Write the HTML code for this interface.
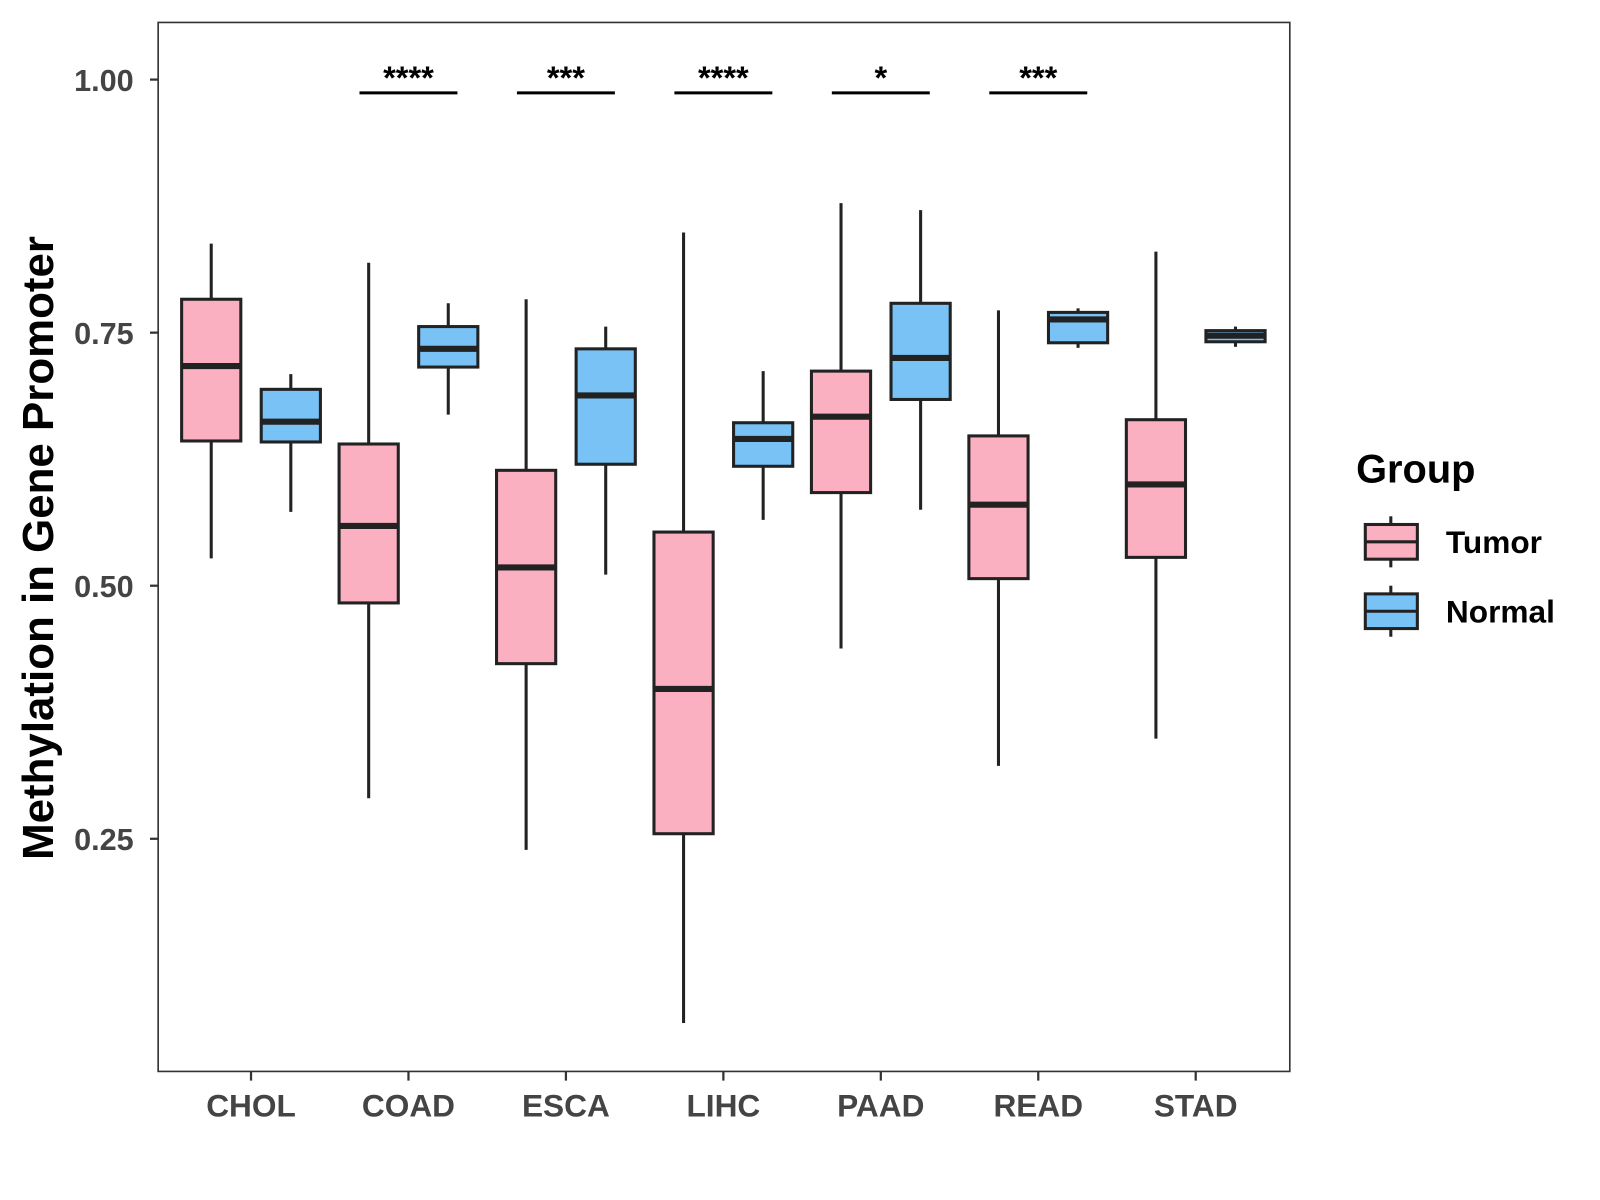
<!DOCTYPE html>
<html><head><meta charset="utf-8"><style>body{margin:0;background:#fff}svg{display:block;font-family:"Liberation Sans",Arial,sans-serif}</style></head>
<body>
<svg id="chart" width="1600" height="1200" viewBox="0 0 1568 1176" xmlns="http://www.w3.org/2000/svg"></svg>
<script>
const categories=["CHOL","COAD","ESCA","LIHC","PAAD","READ","STAD"];
// [min, q1, median, q3, max]
const tumor=[[0.527,0.643,0.717,0.783,0.838],[0.290,0.483,0.559,0.640,0.819],[0.239,0.423,0.518,0.614,0.783],[0.068,0.255,0.398,0.553,0.849],[0.438,0.592,0.667,0.712,0.878],[0.322,0.507,0.580,0.648,0.772],[0.349,0.528,0.600,0.664,0.830]];
const normal=[[0.573,0.642,0.662,0.694,0.709],[0.669,0.716,0.734,0.756,0.779],[0.511,0.620,0.688,0.734,0.756],[0.565,0.618,0.645,0.661,0.712],[0.575,0.684,0.725,0.779,0.871],[0.735,0.740,0.763,0.770,0.774],[0.736,0.741,0.747,0.752,0.756]];
const sigLabels=["","****","***","****","*","***",""];
const yTicks=[0.25,0.5,0.75,1.0];
const yTickLabels=["0.25","0.50","0.75","1.00"];
const NS="http://www.w3.org/2000/svg",svg=document.getElementById('chart');
const L=155,T=22,R=1264,B=1050;
const y=v=>78+(1-v)*992;
const x=i=>246+i*154.3;
function el(tag,a,p){const e=document.createElementNS(NS,tag);for(const k in a)e.setAttribute(k,a[k]);(p||svg).appendChild(e);return e;}
const frame=el('rect',{x:L,y:T,width:R-L,height:B-T,fill:'none',stroke:'#333','stroke-width':1.6});


yTicks.forEach((v,i)=>{
 const t=el('line',{x1:L-8,x2:L,y1:y(v),y2:y(v),stroke:'#333','stroke-width':2.2});
 
 
 const tx=el('text',{x:L-24,y:y(v)+11,'text-anchor':'end','font-size':30,'font-weight':'bold',fill:'#444'});
 tx.textContent=yTickLabels[i];
 
 
});
categories.forEach((c,i)=>{
 const t=el('line',{x1:x(i),x2:x(i),y1:B,y2:B+9,stroke:'#333','stroke-width':2.2});
 
 
 const tx=el('text',{x:x(i),y:1094,'text-anchor':'middle','font-size':31,'font-weight':'bold',fill:'#444'});
 tx.textContent=c;
 
 
 [[tumor[i],-39,'#FBB0C2','tumor'],[normal[i],39,'#78C2F6','normal']].forEach(([d,off,col,nm])=>{
  const cx=x(i)+off,g=el('g',{});
  
  
  el('line',{x1:cx,x2:cx,y1:y(d[4]),y2:y(d[0]),stroke:'#222','stroke-width':3},g);
  el('rect',{x:cx-29,y:y(d[3]),width:58,height:Math.max(1,y(d[1])-y(d[3])),fill:col,stroke:'#222','stroke-width':3},g);
  el('line',{x1:cx-29,x2:cx+29,y1:y(d[2]),y2:y(d[2]),stroke:'#222','stroke-width':6},g);
 });
 if(sigLabels[i]){
  const b=el('line',{x1:x(i)-48,x2:x(i)+48,y1:91,y2:91,stroke:'#000','stroke-width':3});
  
  
  const s=el('text',{x:x(i),y:87,'text-anchor':'middle','font-size':32,'font-weight':'bold',fill:'#000'});
  s.textContent=sigLabels[i];
  
  
 }
});
const yt=el('text',{x:0,y:0,transform:'translate(52,537) rotate(-90)','text-anchor':'middle','font-size':43,'font-weight':'bold',fill:'#000'});
yt.textContent='Methylation in Gene Promoter';


const lt=el('text',{x:1329,y:473,'font-size':39,'font-weight':'bold',fill:'#000'});
lt.textContent='Group';


[['Tumor','#FBB0C2',531],['Normal','#78C2F6',599]].forEach(([n,col,cy])=>{
 const g=el('g',{});
 
 
 el('line',{x1:1363,x2:1363,y1:cy-25,y2:cy+25,stroke:'#222','stroke-width':3},g);
 el('rect',{x:1338,y:cy-17,width:51,height:34,fill:col,stroke:'#222','stroke-width':3},g);
 el('line',{x1:1338,x2:1389,y1:cy,y2:cy,stroke:'#222','stroke-width':3},g);
 const t=el('text',{x:1417,y:cy+11,'font-size':31,'font-weight':'bold',fill:'#000'},g);
 t.textContent=n;
});
</script>
</body></html>
